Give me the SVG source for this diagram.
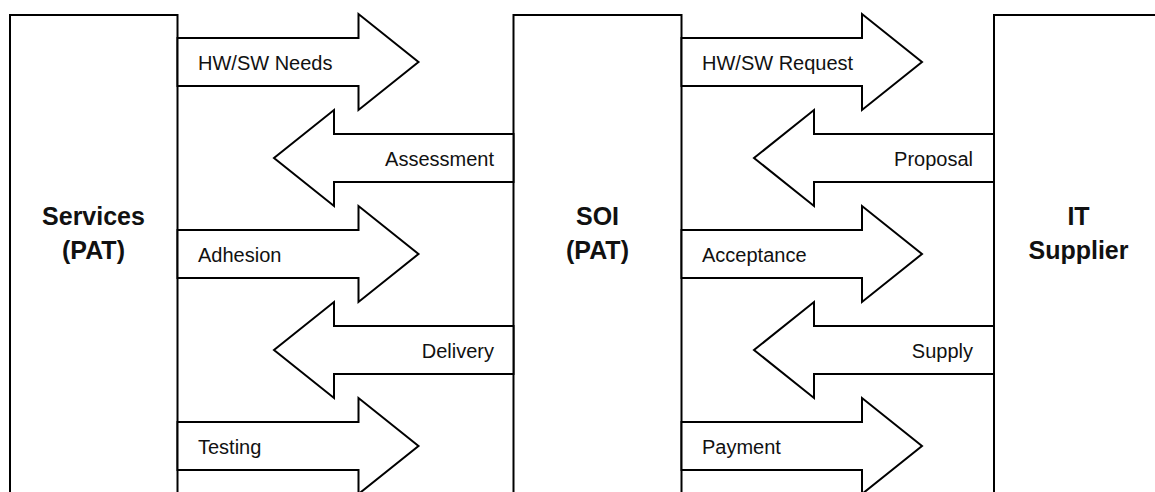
<svg xmlns="http://www.w3.org/2000/svg" width="1155" height="492" viewBox="0 0 1155 492">
<defs>
<style>
.box{fill:#fff;stroke:#000;stroke-width:2}
.arr{fill:#fff;stroke:#000;stroke-width:2;stroke-linejoin:miter}
.lbl{font-family:"Liberation Sans",Arial,sans-serif;font-size:20px;fill:#111}
.ttl{font-family:"Liberation Sans",Arial,sans-serif;font-size:25px;font-weight:bold;fill:#111;text-anchor:middle}
.end{text-anchor:end}
</style>
</defs>
<rect width="1155" height="492" fill="#fff"/>
<g id="services">
<rect class="box" x="10" y="15" width="167.5" height="500"/>
<text class="ttl" x="93.5" y="225">Services</text>
<text class="ttl" x="93.5" y="259">(PAT)</text>
</g>
<g id="soi">
<rect class="box" x="513.5" y="15" width="168" height="500"/>
<text class="ttl" x="597.5" y="225">SOI</text>
<text class="ttl" x="597.5" y="259">(PAT)</text>
</g>
<g id="it-supplier">
<rect class="box" x="994" y="15" width="200" height="500"/>
<text class="ttl" x="1078.5" y="225">IT</text>
<text class="ttl" x="1078.5" y="259">Supplier</text>
</g>
<g id="connectors">
<g id="hwsw-needs"><polygon class="arr" points="177.5,38 358.5,38 358.5,14 418.5,62 358.5,110 358.5,86 177.5,86"/><text class="lbl" x="198" y="70">HW/SW Needs</text></g>
<g id="assessment"><polygon class="arr" points="513.5,134 334,134 334,110 274,158 334,206 334,182 513.5,182"/><text class="lbl end" x="494" y="166">Assessment</text></g>
<g id="adhesion"><polygon class="arr" points="177.5,230 358.5,230 358.5,206 418.5,254 358.5,302 358.5,278 177.5,278"/><text class="lbl" x="198" y="262">Adhesion</text></g>
<g id="delivery"><polygon class="arr" points="513.5,326 334,326 334,302 274,350 334,398 334,374 513.5,374"/><text class="lbl end" x="494" y="358">Delivery</text></g>
<g id="testing"><polygon class="arr" points="177.5,422 358.5,422 358.5,398 418.5,446 358.5,494 358.5,470 177.5,470"/><text class="lbl" x="198" y="454">Testing</text></g>
<g id="hwsw-request"><polygon class="arr" points="681.5,38 862,38 862,14 922,62 862,110 862,86 681.5,86"/><text class="lbl" x="702" y="70">HW/SW Request</text></g>
<g id="proposal"><polygon class="arr" points="994,134 814,134 814,110 754,158 814,206 814,182 994,182"/><text class="lbl end" x="973" y="166">Proposal</text></g>
<g id="acceptance"><polygon class="arr" points="681.5,230 862,230 862,206 922,254 862,302 862,278 681.5,278"/><text class="lbl" x="702" y="262">Acceptance</text></g>
<g id="supply"><polygon class="arr" points="994,326 814,326 814,302 754,350 814,398 814,374 994,374"/><text class="lbl end" x="973" y="358">Supply</text></g>
<g id="payment"><polygon class="arr" points="681.5,422 862,422 862,398 922,446 862,494 862,470 681.5,470"/><text class="lbl" x="702" y="454">Payment</text></g>
</g>
</svg>
